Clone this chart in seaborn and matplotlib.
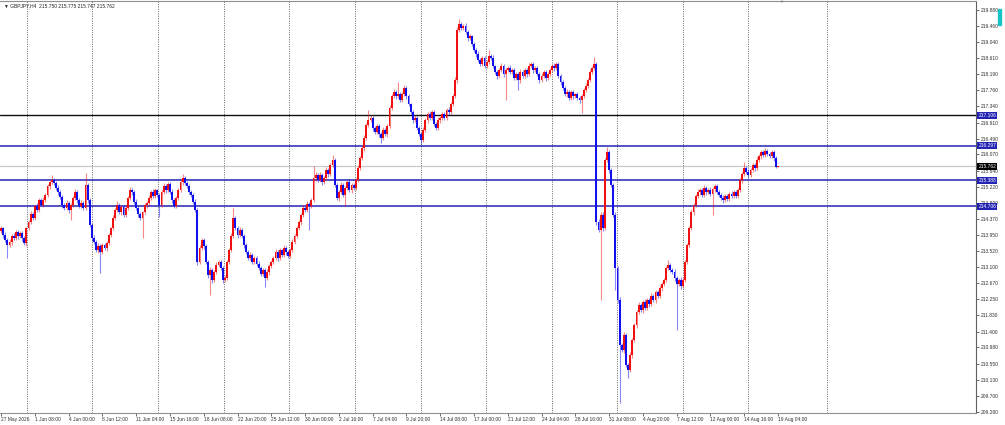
import numpy as np
import pandas as pd
import matplotlib
matplotlib.use("Agg")
import matplotlib.pyplot as plt
import matplotlib.transforms as mtransforms
from matplotlib.patches import Rectangle
import seaborn as sns

# ---------------- data (GBPJPY H4) ----------------
symbol_info = "GBPJPY,H4  215.750 215.775 215.747 215.762"

opens = [
    214.05, 214.13, 213.95, 213.81, 213.68, 213.76, 213.92, 213.87, 214.03, 213.92,
    214.00, 213.86, 213.73, 214.13, 214.29, 214.50, 214.40, 214.71, 214.61, 214.87,
    214.74, 214.87, 215.00, 215.24, 215.34, 215.40, 215.32, 215.19, 215.08, 214.95,
    214.74, 214.66, 214.79, 214.61, 214.74, 214.92, 215.08, 214.87, 214.71, 214.79,
    214.66, 215.27, 214.87, 214.21, 213.87, 213.76, 213.55, 213.66, 213.50, 213.68,
    213.60, 213.73, 213.95, 214.13, 214.40, 214.61, 214.74, 214.55, 214.69, 214.48,
    214.66, 214.92, 215.13, 215.08, 214.82, 214.66, 214.50, 214.40, 214.55, 214.74,
    214.79, 214.92, 215.08, 214.98, 215.13, 215.00, 214.74, 215.08, 215.24, 215.13,
    215.29, 215.08, 214.87, 214.71, 214.92, 215.13, 215.34, 215.45, 215.32, 215.24,
    215.08, 215.00, 214.82, 214.61, 213.24, 213.60, 213.81, 213.66, 213.24, 212.89,
    213.02, 212.76, 212.97, 213.16, 213.24, 213.08, 212.76, 212.81, 213.24, 213.55,
    213.92, 214.40, 214.13, 213.95, 214.08, 213.92, 213.68, 213.50, 213.34, 213.42,
    213.24, 213.34, 213.18, 213.08, 212.92, 213.02, 212.81, 212.97, 213.13, 213.24,
    213.34, 213.50, 213.34, 213.55, 213.42, 213.60, 213.50, 213.39, 213.55, 213.76,
    213.92, 214.13, 214.29, 214.48, 214.66, 214.61, 214.77, 214.71, 214.87, 215.45,
    215.53, 215.40, 215.53, 215.34, 215.45, 215.66, 215.55, 215.79, 215.92, 215.27,
    214.92, 215.08, 215.27, 215.00, 215.19, 215.34, 215.13, 215.27, 215.19, 215.40,
    215.71, 215.98, 216.24, 216.51, 216.85, 216.98, 217.03, 216.77, 216.67, 216.82,
    216.61, 216.51, 216.72, 216.61, 216.82, 217.30, 217.61, 217.72, 217.61, 217.66,
    217.51, 217.66, 217.82, 217.61, 217.40, 217.19, 216.98, 217.03, 216.77, 216.61,
    216.45, 216.72, 216.98, 217.14, 217.03, 217.19, 216.88, 216.77, 216.98, 217.03,
    217.14, 217.03, 217.24, 217.19, 217.40, 217.61, 218.03, 219.35, 219.51, 219.41,
    219.46, 219.30, 219.14, 219.19, 218.98, 218.83, 218.72, 218.56, 218.46, 218.62,
    218.40, 218.51, 218.67, 218.62, 218.40, 218.25, 218.14, 218.30, 218.40, 218.19,
    218.30, 218.35, 218.25, 218.30, 218.09, 218.19, 218.03, 218.25, 218.14, 218.30,
    218.19, 218.40, 218.46, 218.30, 218.35, 218.19, 218.03, 218.14, 218.25, 218.09,
    218.19, 218.30, 218.40, 218.35, 218.46, 218.14, 217.98, 217.82, 217.66, 217.72,
    217.56, 217.72, 217.61, 217.66, 217.56, 217.51, 217.61, 217.77, 217.88, 218.03,
    218.25, 218.35, 218.46, 214.29, 214.08, 214.48, 214.13, 215.92, 216.14, 215.66,
    215.27, 214.48, 213.08, 212.23, 211.05, 210.91, 211.31, 210.52, 210.39, 210.78,
    211.18, 211.57, 211.92, 212.10, 211.97, 212.18, 212.02, 212.23, 212.13, 212.34,
    212.23, 212.44, 212.34, 212.55, 212.66, 212.76, 213.08, 213.16, 213.02, 212.97,
    212.81, 212.66, 212.76, 212.60, 212.76, 213.24, 213.68, 214.13, 214.55, 214.74,
    214.98, 215.08, 215.13, 215.00, 215.19, 215.08, 215.13, 215.03, 215.16, 215.24,
    215.08, 215.00, 214.92, 214.87, 214.98, 214.90, 215.03, 214.98, 215.08, 214.98,
    215.13, 215.40, 215.55, 215.71, 215.61, 215.53, 215.66, 215.79, 215.71, 215.92,
    216.03, 216.14, 216.06, 216.16, 216.09, 216.03, 216.14, 215.98, 215.75,
]

closes = [
    214.13, 213.95, 213.81, 213.68, 213.76, 213.92, 213.87, 214.03, 213.92, 214.00,
    213.86, 213.73, 214.13, 214.29, 214.50, 214.40, 214.71, 214.61, 214.87, 214.74,
    214.87, 215.00, 215.24, 215.34, 215.40, 215.32, 215.19, 215.08, 214.95, 214.74,
    214.66, 214.79, 214.61, 214.74, 214.92, 215.08, 214.87, 214.71, 214.79, 214.66,
    215.27, 214.87, 214.21, 213.87, 213.76, 213.55, 213.66, 213.50, 213.68, 213.60,
    213.73, 213.95, 214.13, 214.40, 214.61, 214.74, 214.55, 214.69, 214.48, 214.66,
    214.92, 215.13, 215.08, 214.82, 214.66, 214.50, 214.40, 214.55, 214.74, 214.79,
    214.92, 215.08, 214.98, 215.13, 215.00, 214.74, 215.08, 215.24, 215.13, 215.29,
    215.08, 214.87, 214.71, 214.92, 215.13, 215.34, 215.45, 215.32, 215.24, 215.08,
    215.00, 214.82, 214.61, 213.24, 213.60, 213.81, 213.66, 213.24, 212.89, 213.02,
    212.76, 212.97, 213.16, 213.24, 213.08, 212.76, 212.81, 213.24, 213.55, 213.92,
    214.40, 214.13, 213.95, 214.08, 213.92, 213.68, 213.50, 213.34, 213.42, 213.24,
    213.34, 213.18, 213.08, 212.92, 213.02, 212.81, 212.97, 213.13, 213.24, 213.34,
    213.50, 213.34, 213.55, 213.42, 213.60, 213.50, 213.39, 213.55, 213.76, 213.92,
    214.13, 214.29, 214.48, 214.66, 214.61, 214.77, 214.71, 214.87, 215.45, 215.53,
    215.40, 215.53, 215.34, 215.45, 215.66, 215.55, 215.79, 215.92, 215.27, 214.92,
    215.08, 215.27, 215.00, 215.19, 215.34, 215.13, 215.27, 215.19, 215.40, 215.71,
    215.98, 216.24, 216.51, 216.85, 216.98, 217.03, 216.77, 216.67, 216.82, 216.61,
    216.51, 216.72, 216.61, 216.82, 217.30, 217.61, 217.72, 217.61, 217.66, 217.51,
    217.66, 217.82, 217.61, 217.40, 217.19, 216.98, 217.03, 216.77, 216.61, 216.45,
    216.72, 216.98, 217.14, 217.03, 217.19, 216.88, 216.77, 216.98, 217.03, 217.14,
    217.03, 217.24, 217.19, 217.40, 217.61, 218.03, 219.35, 219.51, 219.41, 219.46,
    219.30, 219.14, 219.19, 218.98, 218.83, 218.72, 218.56, 218.46, 218.62, 218.40,
    218.51, 218.67, 218.62, 218.40, 218.25, 218.14, 218.30, 218.40, 218.19, 218.30,
    218.35, 218.25, 218.30, 218.09, 218.19, 218.03, 218.25, 218.14, 218.30, 218.19,
    218.40, 218.46, 218.30, 218.35, 218.19, 218.03, 218.14, 218.25, 218.09, 218.19,
    218.30, 218.40, 218.35, 218.46, 218.14, 217.98, 217.82, 217.66, 217.72, 217.56,
    217.72, 217.61, 217.66, 217.56, 217.51, 217.61, 217.77, 217.88, 218.03, 218.25,
    218.35, 218.46, 214.29, 214.08, 214.48, 214.13, 215.92, 216.14, 215.66, 215.27,
    214.48, 213.08, 212.23, 211.05, 210.91, 211.31, 210.52, 210.39, 210.78, 211.18,
    211.57, 211.92, 212.10, 211.97, 212.18, 212.02, 212.23, 212.13, 212.34, 212.23,
    212.44, 212.34, 212.55, 212.66, 212.76, 213.08, 213.16, 213.02, 212.97, 212.81,
    212.66, 212.76, 212.60, 212.76, 213.24, 213.68, 214.13, 214.55, 214.74, 214.98,
    215.08, 215.13, 215.00, 215.19, 215.08, 215.13, 215.03, 215.16, 215.24, 215.08,
    215.00, 214.92, 214.87, 214.98, 214.90, 215.03, 214.98, 215.08, 214.98, 215.13,
    215.40, 215.55, 215.71, 215.61, 215.53, 215.66, 215.79, 215.71, 215.92, 216.03,
    216.14, 216.06, 216.16, 216.09, 216.03, 216.14, 215.98, 215.75, 215.762,
]

# wick lengths above the body top / below the body bottom (price units)
upper_wicks = [
    .06, .04, .08, .05, .07, .05, .09, .04, .06, .05,
    .05, .07, .04, .06, .08, .05, .04, .07, .05, .06,
    .08, .05, .06, .04, .13, .06, .05, .07, .04, .06,
    .05, .08, .04, .06, .05, .07, .06, .04, .08, .05,
    .31, .06, .05, .04, .07, .05, .08, .04, .06, .05,
    .05, .06, .04, .07, .05, .09, .06, .04, .05, .07,
    .06, .08, .05, .04, .07, .05, .06, .04, .05, .06,
    .07, .05, .08, .06, .04, .05, .06, .09, .05, .06,
    .05, .07, .04, .06, .05, .08, .11, .05, .06, .04,
    .06, .05, .07, .04, .08, .06, .05, .04, .06, .07,
    .05, .06, .08, .05, .04, .06, .07, .05, .06, .08,
    .26, .05, .06, .07, .04, .05, .06, .05, .07, .04,
    .06, .05, .07, .04, .06, .05, .08, .06, .05, .04,
    .07, .05, .06, .04, .08, .05, .06, .05, .07, .06,
    .05, .06, .04, .07, .05, .06, .05, .04, .32, .07,
    .06, .08, .05, .06, .07, .05, .06, .14, .05, .04,
    .06, .07, .05, .06, .05, .08, .04, .06, .05, .07,
    .06, .05, .08, .06, .26, .07, .05, .06, .05, .06,
    .05, .07, .04, .06, .08, .05, .07, .06, .32, .05,
    .06, .07, .05, .06, .04, .05, .07, .05, .06, .04,
    .07, .05, .06, .08, .05, .06, .04, .07, .05, .06,
    .05, .06, .07, .05, .06, .08, .07, .12, .06, .05,
    .07, .05, .06, .04, .06, .05, .07, .06, .05, .04,
    .06, .16, .05, .07, .04, .06, .05, .07, .05, .06,
    .05, .07, .06, .04, .06, .05, .07, .06, .05, .06,
    .07, .05, .06, .05, .04, .06, .08, .05, .06, .05,
    .06, .05, .07, .06, .05, .04, .06, .05, .07, .05,
    .05, .06, .04, .07, .05, .06, .05, .08, .06, .07,
    .06, .18, .05, .08, .07, .06, .05, .13, .06, .05,
    .06, .07, .05, .08, .06, .07, .05, .06, .08, .05,
    .06, .05, .07, .06, .05, .08, .06, .05, .07, .06,
    .05, .06, .07, .05, .06, .05, .13, .06, .05, .07,
    .06, .05, .07, .06, .05, .06, .05, .07, .06, .05,
    .07, .05, .06, .08, .05, .06, .07, .05, .06, .05,
    .06, .05, .07, .05, .06, .05, .07, .06, .05, .06,
    .05, .06, .16, .05, .07, .06, .05, .06, .07, .05,
    .06, .05, .07, .06, .05, .05, .06, .04, .013,
]

lower_wicks = [
    .05, .07, .06, .34, .05, .08, .06, .05, .07, .06,
    .06, .05, .07, .04, .06, .05, .07, .05, .06, .04,
    .05, .06, .04, .07, .05, .06, .05, .07, .06, .08,
    .06, .05, .08, .27, .05, .06, .07, .05, .06, .05,
    .05, .07, .06, .08, .05, .06, .07, .56, .05, .06,
    .07, .05, .06, .04, .07, .05, .06, .08, .05, .06,
    .05, .06, .07, .05, .06, .08, .06, .53, .05, .07,
    .06, .05, .07, .05, .06, .32, .05, .06, .07, .05,
    .06, .07, .05, .06, .04, .05, .07, .06, .05, .06,
    .05, .06, .07, .08, .06, .05, .07, .06, .08, .53,
    .07, .06, .05, .07, .06, .08, .05, .06, .07, .05,
    .06, .05, .07, .06, .05, .07, .06, .05, .06, .07,
    .05, .06, .07, .05, .06, .23, .05, .07, .06, .05,
    .06, .07, .05, .06, .05, .07, .06, .05, .06, .05,
    .06, .05, .07, .06, .05, .07, .63, .05, .06, .07,
    .05, .06, .07, .05, .06, .08, .05, .06, .07, .06,
    .07, .05, .06, .29, .05, .06, .07, .05, .06, .05,
    .06, .05, .07, .06, .05, .06, .07, .05, .06, .07,
    .14, .05, .06, .07, .05, .06, .05, .07, .06, .05,
    .06, .05, .07, .06, .05, .07, .06, .05, .06, .10,
    .05, .06, .07, .05, .06, .07, .05, .06, .07, .05,
    .06, .05, .07, .06, .05, .06, .07, .05, .06, .05,
    .06, .07, .05, .06, .05, .07, .06, .05, .07, .06,
    .05, .06, .07, .05, .06, .07, .05, .06, .07, .68,
    .06, .05, .07, .06, .05, .26, .07, .05, .06, .07,
    .05, .06, .07, .06, .05, .07, .06, .05, .07, .06,
    .05, .06, .07, .05, .06, .07, .05, .06, .07, .05,
    .06, .07, .05, .06, .07, .35, .05, .06, .07, .05,
    .06, .05, .07, .06, 1.85, .07, .06, .05, .07, .06,
    .05, .58, .07, 1.53, .06, .07, .05, .21, .06, .07,
    .06, .07, .05, .06, .07, .05, .06, .07, .05, .06,
    .07, .05, .06, .07, .05, .06, .07, .05, .06, .07,
    1.22, .06, .07, .05, .06, .07, .05, .06, .07, .05,
    .06, .07, .05, .06, .07, .05, .06, .55, .07, .06,
    .05, .06, .07, .05, .06, .07, .05, .06, .07, .05,
    .06, .07, .05, .06, .07, .05, .06, .07, .05, .06,
    .07, .05, .06, .07, .05, .06, .07, .05, .003,
]

time_labels = [
    "27 May 2026", "1 Jun 08:00", "4 Jun 00:00", "8 Jun 12:00", "11 Jun 04:00",
    "15 Jun 16:00", "18 Jun 08:00", "22 Jun 20:00", "25 Jun 12:00", "30 Jun 00:00",
    "2 Jul 16:00", "7 Jul 04:00", "9 Jul 20:00", "14 Jul 08:00", "17 Jul 00:00",
    "21 Jul 12:00", "24 Jul 04:00", "28 Jul 16:00", "31 Jul 08:00", "4 Aug 20:00",
    "7 Aug 12:00", "12 Aug 00:00", "14 Aug 16:00", "19 Aug 04:00",
]
bars_per_label = 16

price_ticks = [
    219.880, 219.460, 219.040, 218.610, 218.190, 217.760, 217.340, 216.910,
    216.490, 216.070, 215.640, 215.220, 214.800, 214.370, 213.950, 213.520,
    213.100, 212.670, 212.250, 211.830, 211.400, 210.980, 210.550, 210.130,
    209.700, 209.280,
]

level_black = 217.106
levels_blue = [216.297, 215.388, 214.706]
last_price = 215.762

# ---------------- styling ----------------
sns.set_theme(style="white")
plt.rcParams["font.family"] = ["Liberation Sans", "DejaVu Sans"]

BULL = "#f01010"
BEAR = "#1010ee"
LEVEL_BLUE = "#2323b4"
FS = 3.5

df = pd.DataFrame({"open": opens, "close": closes,
                   "up": upper_wicks, "dn": lower_wicks})
df["bar"] = np.arange(len(df))
df["top"] = df[["open", "close"]].max(axis=1)
df["bot"] = df[["open", "close"]].min(axis=1)
df["high"] = df["top"] + df["up"]
df["low"] = df["bot"] - df["dn"]
df["bull"] = df["close"] >= df["open"]
df["color"] = np.where(df["bull"], BULL, BEAR)
df["body"] = (df["top"] - df["bot"]).clip(lower=0.025)

W, H = 1005, 425
fig = plt.figure(figsize=(W / 100, H / 100), dpi=100)
fig.patch.set_facecolor("white")
ax = fig.add_axes([0, 12 / H, 976 / W, 412 / H])
ax.set_facecolor("white")

# vertical dotted grid
grid_bars = [12.3, 43.3, 74.3, 105.6, 136.4, 167.7, 198.9, 229.7, 261.0,
             291.8, 323.0, 353.8, 391.3]
for g in grid_bars:
    ax.axvline(g, color="#505050", lw=0.6, ls=(0, (1.2, 1.6)), zorder=0)

# horizontal levels
ax.axhline(last_price, color="#c8c8c8", lw=0.9, zorder=1)
ax.axhline(level_black, color="#101010", lw=1.0, zorder=1)
for lv in levels_blue:
    ax.axhline(lv, color=LEVEL_BLUE, lw=1.1, zorder=1)

# candles
ax.vlines(df["bar"], df["low"], df["high"], colors=df["color"],
          lw=0.8, alpha=0.5, zorder=2)
ax.bar(df["bar"], df["body"], bottom=df["bot"], width=0.92,
       color=df["color"], linewidth=0, zorder=3)

# axes
ax.set_xlim(-0.5, 461.8)
ax.set_ylim(209.252, 220.117)
ax.yaxis.tick_right()
ax.set_yticks(price_ticks)
ax.set_yticklabels([f"{v:.3f}" for v in price_ticks])
xt = list(range(0, len(closes), bars_per_label))
ax.set_xticks(xt)
ax.set_xticklabels(time_labels[:len(xt)], ha="left")
ax.tick_params(axis="y", labelsize=FS, length=2, width=0.5, pad=1.2,
               colors="#303030", right=True, left=False)
ax.tick_params(axis="x", labelsize=FS, length=2, width=0.5, pad=0.6,
               colors="#303030", bottom=True)
for lab in ax.get_xticklabels():
    lab.set_horizontalalignment("left")
ax.grid(False)
ax.spines["left"].set_visible(False)
ax.spines["top"].set_color("#909090")
ax.spines["right"].set_color("#606060")
ax.spines["bottom"].set_color("#909090")
for s in ("top", "right", "bottom"):
    ax.spines[s].set_linewidth(0.8)

# price labels on the right scale
trans = mtransforms.blended_transform_factory(ax.transAxes, ax.transData)
tags = [(level_black, LEVEL_BLUE)] + [(lv, LEVEL_BLUE) for lv in levels_blue] \
       + [(last_price, "#000000")]
for val, col in tags:
    ax.text(1.0025, val, f"{val:.3f}", transform=trans, fontsize=FS,
            color="white", ha="left", va="center", zorder=10, clip_on=False,
            bbox=dict(boxstyle="square,pad=0.22", fc=col, ec="none"))

# header text
fig.text(4 / W, 1 - 5.5 / H, "\u25bc " + symbol_info, fontsize=FS,
         color="#202020", ha="left", va="center")
# chart-shift marker and scrollbar accent
fig.text(781 / W, 1 - 1.5 / H, "\u25bc", fontsize=3.0, color="#6a7a8a",
         ha="center", va="center")
fig.patches.append(Rectangle((998 / W, 1 - 25 / H), 3 / W, 16 / H,
                             transform=fig.transFigure, color="#19c3c3"))

fig.savefig("out.png", dpi=100, facecolor="white")
